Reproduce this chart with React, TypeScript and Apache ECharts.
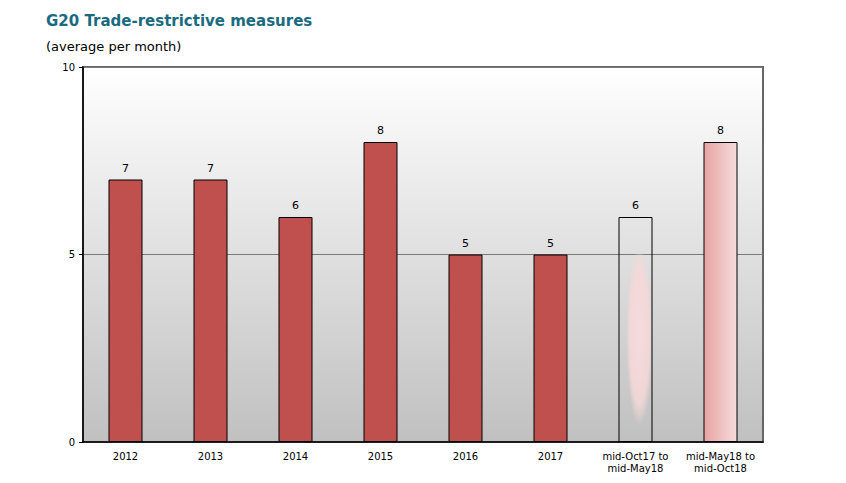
import React, { useEffect, useRef } from 'react';
import * as echarts from 'echarts';

const categories = ['2012', '2013', '2014', '2015', '2016', '2017', 'mid-Oct17 to\nmid-May18', 'mid-May18 to\nmid-Oct18'];
const measures = [7, 7, 6, 8, 5, 5, 6, 8];
const yTicks = [0, 5, 10];

const font = 'DejaVu Sans, Verdana, sans-serif';

const App = () => {
  const chartRef = useRef<HTMLDivElement>(null);

  useEffect(() => {
    document.body.style.margin = '0';
    const chart = echarts.init(chartRef.current!, null, { renderer: 'svg' });

    // last two bars are drawn differently: outline only, and pink gradient
    const data = measures.map((v, i) => {
      if (i === 6) {
        return {
          value: v,
          itemStyle: {
            color: {
              type: 'radial',
              x: 0.62,
              y: 0.53,
              r: 0.4,
              colorStops: [
                { offset: 0, color: 'rgba(248,220,220,0.95)' },
                { offset: 0.75, color: 'rgba(246,216,216,0.85)' },
                { offset: 1, color: 'rgba(246,216,216,0)' },
              ],
            },
          },
        };
      }
      if (i === 7) {
        return {
          value: v,
          itemStyle: {
            color: new echarts.graphic.LinearGradient(0, 0, 1, 0, [
              { offset: 0, color: '#e8a2a4' },
              { offset: 1, color: '#f6dcdc' },
            ]),
          },
        };
      }
      return v;
    });

    const options = {
      animation: false,
      title: [
        {
          text: 'G20 Trade-restrictive measures',
          left: 41,
          top: 8,
          textStyle: { fontFamily: font, fontSize: 15, fontWeight: 'bold', color: '#1a6a80' },
        },
        {
          text: '(average per month)',
          left: 41,
          top: 35,
          textStyle: { fontFamily: font, fontSize: 13, fontWeight: 'normal', color: '#000' },
        },
      ],
      grid: {
        left: 83,
        right: 83,
        top: 67,
        bottom: 41,
        show: true,
        borderColor: '#666',
        borderWidth: 2,
        backgroundColor: new echarts.graphic.LinearGradient(0, 0, 0, 1, [
          { offset: 0, color: '#ffffff' },
          { offset: 1, color: '#c0c0c0' },
        ]),
      },
      xAxis: {
        type: 'category',
        data: categories,
        axisLine: { lineStyle: { color: '#000', width: 1.5 } },
        axisTick: { lineStyle: { color: '#000' }, length: 4 },
        axisLabel: { interval: 0, fontFamily: font, fontSize: 10, color: '#000', margin: 8, lineHeight: 12 },
      },
      yAxis: {
        type: 'value',
        min: yTicks[0],
        max: yTicks[yTicks.length - 1],
        interval: 5,
        axisLine: { show: true, lineStyle: { color: '#000', width: 1.5 } },
        axisTick: { show: true, lineStyle: { color: '#000' }, length: 4 },
        axisLabel: { fontFamily: font, fontSize: 10, color: '#000', margin: 8 },
        splitLine: { lineStyle: { color: '#7a7a7a', width: 1 } },
      },
      series: [
        {
          type: 'bar',
          data,
          barWidth: '40%',
          itemStyle: { color: '#c0504d', borderColor: '#000', borderWidth: 1 },
          label: {
            show: true,
            position: 'top',
            distance: 6,
            fontFamily: font,
            fontSize: 11,
            color: '#000',
          },
        },
      ],
    };

    chart.setOption(options);
    return () => {
      chart.dispose();
    };
  }, []);

  return <div style={{ width: '846px', height: '483px' }} ref={chartRef}></div>;
};
export default App;
